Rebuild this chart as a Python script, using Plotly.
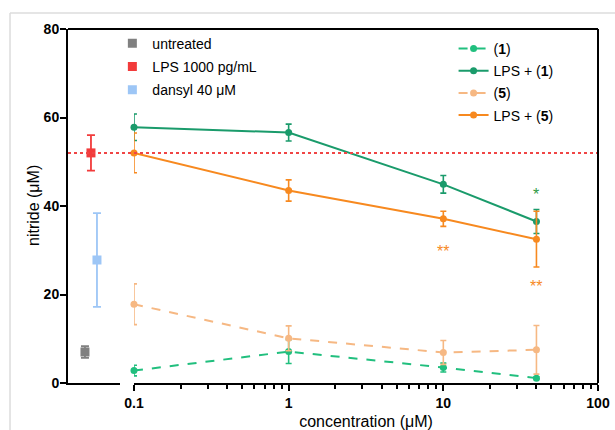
import math
import plotly.graph_objects as go

# ---- data ----
ctrl_labels = ["untreated", "LPS 1000 pg/mL", "dansyl 40 μM"]
ctrl_mean = [7.0, 52.0, 27.8]
ctrl_err = [1.3, 4.0, 10.6]
ctrl_colors = ["#808080", "#f23b3b", "#9dc6f6"]

conc = [0.1, 1, 10, 40]
c1 = [2.8, 7.1, 3.5, 1.1]
c1_err = [1.2, 2.7, 1.0, 0.3]
lps1 = [57.8, 56.6, 44.9, 36.5]
lps1_err = [3.0, 1.9, 2.0, 2.7]
c5 = [17.8, 10.1, 6.9, 7.5]
c5_err = [4.6, 2.8, 2.7, 5.5]
lps5 = [52.0, 43.5, 37.1, 32.5]
lps5_err = [4.5, 2.4, 1.7, 6.3]
lps_ref = 52.0

stars = [("*", 40, 42.5, "#2f9a45"), ("**", 10, 29.8, "#f7891f"), ("**", 40, 21.9, "#f7891f")]

green_l = "#21bf7e"
green_d = "#1a9b6b"
orange_l = "#f6b883"
orange_d = "#f7891f"

FONT = "Liberation Sans, Arial, sans-serif"

fig = go.Figure()

# control groups (left broken-axis part)
for i, (lab, m, e, col) in enumerate(zip(ctrl_labels, ctrl_mean, ctrl_err, ctrl_colors)):
    fig.add_trace(go.Scatter(
        x=[lab], y=[m], mode="markers", name=lab, cliponaxis=False,
        marker=dict(symbol="square", size=9, color=col),
        error_y=dict(type="data", array=[e], color=col, thickness=1.8, width=4),
        xaxis="x", yaxis="y", legend="legend", legendgroup="c%d" % i,
    ))

series = [
    ("(<b>1</b>)", c1, c1_err, green_l, "dash"),
    ("LPS + (<b>1</b>)", lps1, lps1_err, green_d, "solid"),
    ("(<b>5</b>)", c5, c5_err, orange_l, "dash"),
    ("LPS + (<b>5</b>)", lps5, lps5_err, orange_d, "solid"),
]
for i, (name, ys, es, col, dash) in enumerate(series):
    fig.add_trace(go.Scatter(
        x=conc, y=ys, mode="lines+markers", name=name, cliponaxis=False,
        line=dict(color=col, width=2, dash=dash),
        marker=dict(symbol="circle", size=7, color=col),
        error_y=dict(type="data", array=es, color=col, thickness=1.6, width=3),
        xaxis="x2", yaxis="y", legend="legend2", legendgroup="s%d" % i,
    ))

for txt, xv, yv, col in stars:
    fig.add_annotation(x=math.log10(xv), y=yv, xref="x2", yref="y", text=txt,
                       showarrow=False, font=dict(size=16, color=col, family=FONT))

# y axis title
fig.add_annotation(x=-0.066, y=0.5, xref="paper", yref="paper", text="nitride (μM)",
                   textangle=-90, showarrow=False, xanchor="center", yanchor="middle",
                   font=dict(size=16, family=FONT, color="black"))

# LPS reference dotted line
fig.add_shape(type="line", xref="paper", yref="y", x0=0, x1=1, y0=lps_ref, y1=lps_ref,
              line=dict(color="#f04545", width=2, dash="dot"))
# box top & right
fig.add_shape(type="line", xref="paper", yref="paper", x0=0, x1=1, y0=1, y1=1,
              line=dict(color="black", width=2))
fig.add_shape(type="line", xref="paper", yref="paper", x0=1, x1=1, y0=0, y1=1,
              line=dict(color="black", width=2))
# outer light frame
fig.add_shape(type="line", xref="paper", yref="paper", x0=-0.1094, x1=1.04, y0=1.0452, y1=1.0452,
              line=dict(color="#dcdcdc", width=1.5))
fig.add_shape(type="line", xref="paper", yref="paper", x0=-0.1094, x1=-0.1094, y0=-0.14, y1=1.0452,
              line=dict(color="#dcdcdc", width=1.5))

minor_vals = [m * d for d in (0.1, 1, 10) for m in range(2, 10)]

fig.update_layout(
    width=615, height=430,
    margin=dict(l=68, r=17, t=29, b=47, autoexpand=False),
    plot_bgcolor="white", paper_bgcolor="white",
    font=dict(family=FONT, size=14, color="black"),
    xaxis=dict(
        domain=[0, 0.098], type="category", categoryorder="array", categoryarray=ctrl_labels,
        range=[-2.83, 5.83], showline=True, linewidth=2, linecolor="black", automargin=False,
        showticklabels=False, ticks="", showgrid=False, zeroline=False, anchor="y",
    ),
    xaxis2=dict(
        domain=[0.1245, 1], type="log", range=[-1, 2], anchor="y", automargin=False,
        showline=True, linewidth=2, linecolor="black", showgrid=False, zeroline=False,
        tickmode="array", tickvals=[0.1, 1, 10, 100], ticktext=["0.1", "1", "10", "100"],
        ticks="outside", ticklen=6, tickwidth=1.5, tickcolor="black",
        tickfont=dict(size=14, family=FONT, weight="bold"),
        minor=dict(tickmode="array", tickvals=minor_vals, ticks="outside", ticklen=4,
                   tickwidth=1.5, tickcolor="black", showgrid=False),
        title=dict(text="concentration (μM)", font=dict(size=16, family=FONT), standoff=8),
    ),
    yaxis=dict(
        range=[0, 80], tickvals=[0, 20, 40, 60, 80], anchor="x", automargin=False,
        showline=True, linewidth=2, linecolor="black", showgrid=False, zeroline=False,
        ticks="outside", ticklen=6, tickwidth=1.5, tickcolor="black",
        tickfont=dict(size=14, family=FONT, weight="bold"),
        ticklabelstandoff=-2,
    ),
    legend=dict(x=0.0837, y=1.0037, xanchor="left", yanchor="top", bgcolor="rgba(0,0,0,0)",
                font=dict(size=14, family=FONT), tracegroupgap=2, itemclick=False),
    legend2=dict(x=0.7275, y=0.989, xanchor="left", yanchor="top", bgcolor="rgba(0,0,0,0)",
                 font=dict(size=14, family=FONT), tracegroupgap=1, itemclick=False),
    showlegend=True,
)

fig.write_html("out.html", config={"displayModeBar": False},
               post_script="document.body.style.margin='0';")
